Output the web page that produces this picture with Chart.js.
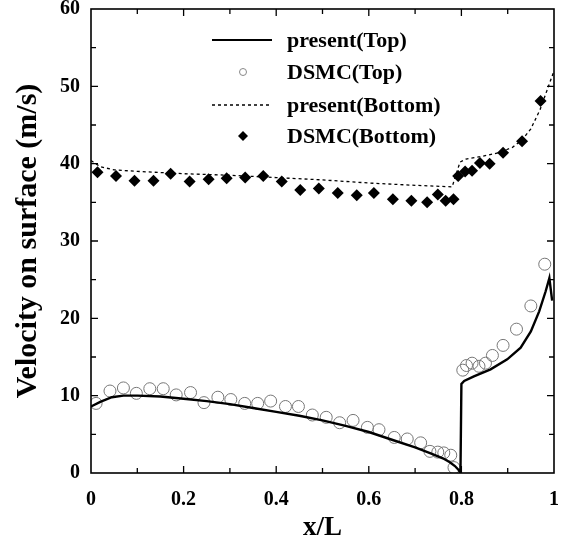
<!DOCTYPE html>
<html>
<head>
<meta charset="utf-8">
<script src="https://cdn.jsdelivr.net/npm/chart.js@4.4.0/dist/chart.umd.min.js"></script>
<style>
  html, body { margin: 0; padding: 0; background: #fff; }
</style>
</head>
<body>
<canvas id="c" width="574" height="547"></canvas>
<script>
// present(Top) - solid line
var presentTopX = [0, 0.02, 0.045, 0.07, 0.1, 0.15, 0.2, 0.25, 0.3, 0.35, 0.4, 0.45, 0.5, 0.55, 0.6, 0.65, 0.7, 0.735, 0.76, 0.775, 0.786, 0.794, 0.798, 0.8, 0.806, 0.827, 0.863, 0.899, 0.928, 0.95, 0.968, 0.982, 0.99, 0.996];
var presentTopY = [8.6, 9.2, 9.8, 10.0, 10.0, 9.9, 9.6, 9.3, 8.9, 8.4, 7.9, 7.4, 6.8, 6.1, 5.3, 4.3, 3.3, 2.5, 1.9, 1.4, 0.9, 0.4, 0, 11.5, 11.9, 12.5, 13.4, 14.7, 16.2, 18.3, 20.9, 23.5, 25.2, 22.3];

// DSMC(Top) - open circles
var dsmcTopX = [0.011, 0.041, 0.07, 0.098, 0.127, 0.156, 0.184, 0.215, 0.244, 0.274, 0.302, 0.332, 0.36, 0.388, 0.42, 0.448, 0.478, 0.508, 0.537, 0.566, 0.597, 0.622, 0.655, 0.683, 0.712, 0.732, 0.749, 0.762, 0.777, 0.784, 0.803, 0.811, 0.823, 0.838, 0.852, 0.867, 0.89, 0.919, 0.95, 0.98];
var dsmcTopY = [9.0, 10.6, 11.0, 10.3, 10.9, 10.9, 10.1, 10.4, 9.1, 9.8, 9.5, 9.0, 9.0, 9.3, 8.6, 8.6, 7.5, 7.2, 6.5, 6.8, 5.9, 5.6, 4.6, 4.4, 3.9, 2.8, 2.7, 2.6, 2.3, 0.7, 13.3, 13.9, 14.2, 13.8, 14.2, 15.2, 16.5, 18.6, 21.6, 27.0];

// present(Bottom) - dashed line
var presentBottomX = [0, 0.02, 0.05, 0.1, 0.2, 0.3, 0.4, 0.5, 0.6, 0.7, 0.78, 0.797, 0.81, 0.84, 0.88, 0.91, 0.93, 0.95, 0.97, 0.985, 1.0];
var presentBottomY = [40.4, 39.6, 39.2, 39.0, 38.7, 38.5, 38.2, 37.9, 37.5, 37.2, 37.0, 40.2, 40.6, 40.9, 41.4, 42.1, 43.0, 44.5, 47.0, 49.5, 52.0];

// DSMC(Bottom) - filled diamonds
var dsmcBottomX = [0.014, 0.054, 0.094, 0.135, 0.172, 0.213, 0.254, 0.293, 0.333, 0.372, 0.412, 0.452, 0.492, 0.533, 0.574, 0.611, 0.652, 0.692, 0.726, 0.749, 0.766, 0.783, 0.793, 0.808, 0.823, 0.84, 0.861, 0.89, 0.931, 0.971];
var dsmcBottomY = [38.9, 38.4, 37.8, 37.8, 38.7, 37.7, 38.0, 38.1, 38.2, 38.4, 37.7, 36.6, 36.8, 36.2, 35.9, 36.2, 35.4, 35.2, 35.0, 36.0, 35.2, 35.4, 38.4, 39.0, 39.1, 40.1, 40.0, 41.4, 42.9, 48.1];

var legendLabels = ['present(Top)', 'DSMC(Top)', 'present(Bottom)', 'DSMC(Bottom)'];

function toPoints(xs, ys) {
  return xs.map(function(x, i) { return { x: x, y: ys[i] }; });
}

var serif = '"Liberation Serif", "Times New Roman", serif';

// inward ticks on all four sides + frame
var frameTicks = {
  id: 'frameTicks',
  afterDatasetsDraw: function(chart) {
    var a = chart.chartArea, ctx = chart.ctx;
    var xs = chart.scales.x, ys = chart.scales.y;
    ctx.save();
    ctx.strokeStyle = '#000';
    ctx.lineWidth = 1.6;
    ctx.strokeRect(a.left, a.top, a.right - a.left, a.bottom - a.top);
    ctx.lineWidth = 1.3;
    ctx.beginPath();
    for (var i = 1; i < 10; i++) {
      var px = xs.getPixelForValue(i / 10);
      var len = (i % 2 === 0) ? 7 : 5;
      ctx.moveTo(px, a.bottom); ctx.lineTo(px, a.bottom - len);
      ctx.moveTo(px, a.top); ctx.lineTo(px, a.top + len);
    }
    for (var v = 5; v < 60; v += 5) {
      var py = ys.getPixelForValue(v);
      var l2 = (v % 10 === 0) ? 7 : 5;
      ctx.moveTo(a.left, py); ctx.lineTo(a.left + l2, py);
      ctx.moveTo(a.right, py); ctx.lineTo(a.right - l2, py);
    }
    ctx.stroke();
    ctx.restore();
  }
};

// legend drawn inside the plot
var innerLegend = {
  id: 'innerLegend',
  afterDraw: function(chart) {
    var ctx = chart.ctx;
    var rowsY = [40, 72, 105, 136];
    var x0 = 212, x1 = 272, mx = 243, tx = 287;
    ctx.save();
    ctx.font = 'bold 22px ' + serif;
    ctx.textBaseline = 'middle';
    ctx.fillStyle = '#000';
    // solid line
    ctx.strokeStyle = '#000';
    ctx.lineWidth = 2;
    ctx.beginPath(); ctx.moveTo(x0, rowsY[0]); ctx.lineTo(x1, rowsY[0]); ctx.stroke();
    // circle
    ctx.strokeStyle = '#888';
    ctx.lineWidth = 1;
    ctx.beginPath(); ctx.arc(mx, rowsY[1], 3.5, 0, Math.PI * 2); ctx.stroke();
    // dashed
    ctx.strokeStyle = '#000';
    ctx.lineWidth = 1.3;
    ctx.setLineDash([3, 3]);
    ctx.beginPath(); ctx.moveTo(x0, rowsY[2]); ctx.lineTo(x1, rowsY[2]); ctx.stroke();
    ctx.setLineDash([]);
    // diamond
    ctx.beginPath();
    ctx.moveTo(mx, rowsY[3] - 5); ctx.lineTo(mx + 5, rowsY[3]);
    ctx.lineTo(mx, rowsY[3] + 5); ctx.lineTo(mx - 5, rowsY[3]);
    ctx.closePath(); ctx.fill();
    legendLabels.forEach(function(t, i) { ctx.fillText(t, tx, rowsY[i] + 1); });
    ctx.restore();
  }
};

var ctx = document.getElementById('c').getContext('2d');
var chart = new Chart(ctx, {
  type: 'scatter',
  data: {
    datasets: [
      {
        label: legendLabels[0],
        data: toPoints(presentTopX, presentTopY),
        showLine: true,
        borderColor: '#000',
        borderWidth: 2.4,
        pointRadius: 0,
        tension: 0
      },
      {
        label: legendLabels[1],
        data: toPoints(dsmcTopX, dsmcTopY),
        pointStyle: 'circle',
        pointRadius: 6,
        borderColor: '#777',
        borderWidth: 1,
        backgroundColor: 'rgba(255,255,255,0)'
      },
      {
        label: legendLabels[2],
        data: toPoints(presentBottomX, presentBottomY),
        showLine: true,
        borderColor: '#000',
        borderWidth: 1.3,
        borderDash: [3, 3],
        pointRadius: 0,
        tension: 0
      },
      {
        label: legendLabels[3],
        data: toPoints(dsmcBottomX, dsmcBottomY),
        pointStyle: 'rectRot',
        pointRadius: 6,
        borderColor: '#000',
        borderWidth: 0,
        backgroundColor: '#000'
      }
    ]
  },
  options: {
    responsive: false,
    animation: false,
    layout: { padding: { top: 9, right: 20, left: 0, bottom: 0 } },
    plugins: {
      legend: { display: false },
      tooltip: { enabled: false }
    },
    scales: {
      x: {
        type: 'linear',
        min: 0, max: 1,
        grid: { display: false, drawTicks: false },
        border: { display: false },
        afterFit: function(s) { s.height = 74; s.paddingLeft = 0; s.paddingRight = 0; },
        ticks: {
          stepSize: 0.2,
          padding: 15,
          color: '#000',
          font: { family: serif, size: 20, weight: 'bold' },
          callback: function(v) {
            var r = Math.round(v * 10) / 10;
            return (r === 0 || r === 1) ? String(r) : r.toFixed(1);
          }
        },
        title: {
          display: true,
          text: 'x/L',
          color: '#000',
          padding: { top: 0, bottom: 3 },
          font: { family: serif, size: 27, weight: 'bold' }
        }
      },
      y: {
        min: 0, max: 60,
        grid: { display: false, drawTicks: false },
        border: { display: false },
        afterFit: function(s) { s.width = 91; s.paddingTop = 0; s.paddingBottom = 0; },
        ticks: {
          stepSize: 10,
          padding: 11,
          color: '#000',
          font: { family: serif, size: 20, weight: 'bold' }
        },
        title: {
          display: true,
          text: 'Velocity on surface (m/s)',
          color: '#000',
          padding: { top: 10, bottom: 0 },
          font: { family: serif, size: 30, weight: 'bold' }
        }
      }
    }
  },
  plugins: [frameTicks, innerLegend]
});
</script>
</body>
</html>
